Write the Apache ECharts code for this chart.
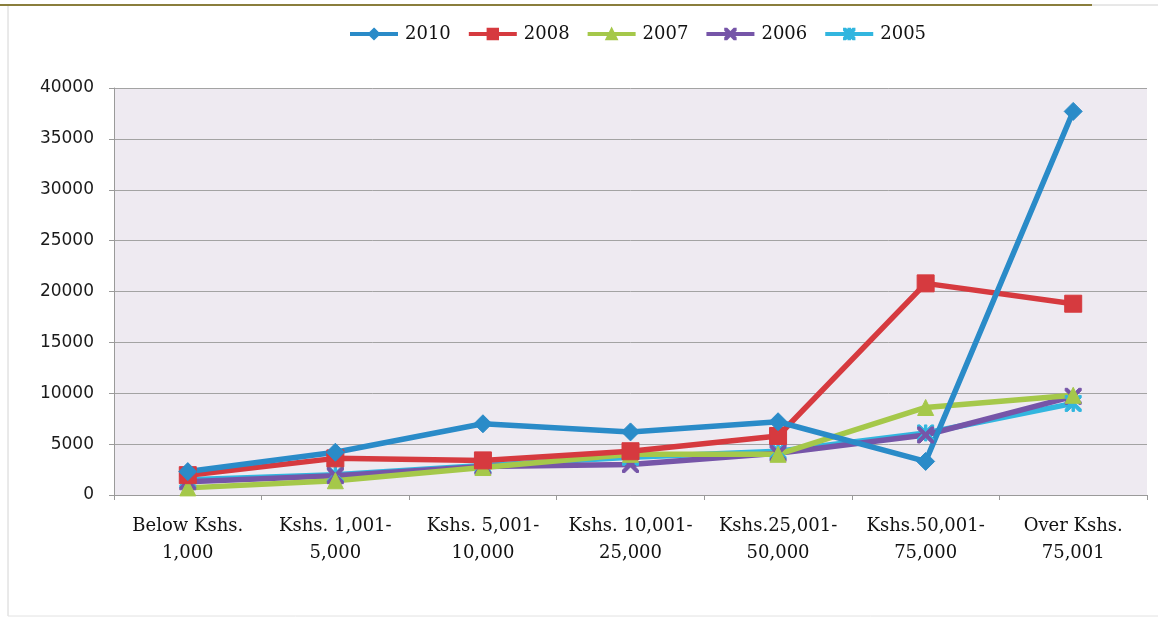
<!DOCTYPE html>
<html>
<head>
<meta charset="utf-8">
<script src="https://cdn.jsdelivr.net/npm/echarts@6/dist/echarts.min.js"></script>
<style>
  html, body { margin: 0; padding: 0; background: #ffffff; }
  #chart { width: 1158px; height: 620px; }
</style>
</head>
<body>
<div id="chart"></div>
<script>
// Income brackets along the category axis
const categories = [
  'Below Kshs.\n1,000',
  'Kshs. 1,001-\n5,000',
  'Kshs. 5,001-\n10,000',
  'Kshs. 10,001-\n25,000',
  'Kshs.25,001-\n50,000',
  'Kshs.50,001-\n75,000',
  'Over Kshs.\n75,001'
];

// Values per year
const values2010 = [2300, 4200, 7000, 6200, 7200, 3300, 37700];
const values2008 = [1950, 3600, 3400, 4300, 5800, 20800, 18800];
const values2007 = [700, 1400, 2700, 4000, 4000, 8600, 9800];
const values2006 = [1300, 1900, 2800, 3000, 4100, 5900, 9700];
const values2005 = [1500, 2000, 2900, 3700, 4300, 6100, 9000];

const yTicks = [0, 5000, 10000, 15000, 20000, 25000, 30000, 35000, 40000];

// Marker shapes for the X and asterisk series
const crossPath = 'path://M0,0 L3,0 L10,7 L17,0 L20,0 L20,3 L13,10 L20,17 L20,20 L17,20 L10,13 L3,20 L0,20 L0,17 L7,10 L0,3Z';
const starPath = 'path://M0,0 L3,0 L8.5,5.5 L8.5,0 L11.5,0 L11.5,5.5 L17,0 L20,0 L20,3 L13,10 L20,17 L20,20 L17,20 L11.5,14.5 L11.5,20 L8.5,20 L8.5,14.5 L3,20 L0,20 L0,17 L7,10 L0,3Z';

const serif = '"DejaVu Serif", "Liberation Serif", serif';
const sans = '"DejaVu Sans", "Noto Sans", sans-serif';

function lineSeries(name, data, color, symbol, size) {
  return {
    name: name,
    type: 'line',
    data: data,
    symbol: symbol,
    symbolSize: size,
    showAllSymbol: true,
    lineStyle: { width: 5.5, color: color },
    itemStyle: { color: color, borderColor: color, borderWidth: 1 },
    emphasis: { disabled: true }
  };
}

const chart = echarts.init(document.getElementById('chart'), null, { renderer: 'canvas' });

chart.setOption({
  animation: false,
  backgroundColor: '#ffffff',
  graphic: [
    { type: 'line', shape: { x1: 8, y1: 6, x2: 8, y2: 616 }, style: { stroke: '#d4d4d4', lineWidth: 1 } },
    { type: 'line', shape: { x1: 0, y1: 5, x2: 1092, y2: 5 }, style: { stroke: '#8a7e3c', lineWidth: 2 } },
    { type: 'line', shape: { x1: 1092, y1: 5, x2: 1158, y2: 5 }, style: { stroke: '#d0d0d0', lineWidth: 1 } },
    { type: 'line', shape: { x1: 8, y1: 616, x2: 1158, y2: 616 }, style: { stroke: '#e2e2e2', lineWidth: 1 } }
  ],
  legend: {
    top: 20,
    left: 343,
    itemWidth: 48,
    itemHeight: 13,
    itemGap: 16,
    lineStyle: { width: 4 },
    textStyle: { fontFamily: serif, fontSize: 18, color: '#111', padding: [0, 0, 0, 2] },
    data: ['2010', '2008', '2007', '2006', '2005']
  },
  grid: {
    left: 114,
    right: 11,
    top: 88,
    bottom: 125,
    show: true,
    backgroundColor: '#eeeaf1',
    borderWidth: 0
  },
  xAxis: {
    type: 'category',
    data: categories,
    boundaryGap: true,
    axisLine: { show: true, lineStyle: { color: '#9a9a9a', width: 1 } },
    axisTick: { show: true, length: 5, lineStyle: { color: '#9a9a9a' } },
    axisLabel: {
      interval: 0,
      margin: 18,
      fontFamily: serif,
      fontSize: 18,
      lineHeight: 27,
      color: '#111'
    },
    splitLine: { show: false }
  },
  yAxis: {
    type: 'value',
    min: yTicks[0],
    max: yTicks[yTicks.length - 1],
    interval: 5000,
    axisLine: { show: true, lineStyle: { color: '#9a9a9a', width: 1 } },
    axisTick: { show: true, length: 5, lineStyle: { color: '#9a9a9a' } },
    axisLabel: {
      margin: 20,
      fontFamily: sans,
      fontSize: 17,
      color: '#1a1a1a',
      formatter: function (v) { return String(v); }
    },
    splitLine: { show: true, lineStyle: { color: '#a3a3a3', width: 1 } }
  },
  series: [
    lineSeries('2005', values2005, '#32b6df', starPath, 16),
    lineSeries('2006', values2006, '#7655a8', crossPath, 16),
    lineSeries('2007', values2007, '#a5c84a', 'triangle', 16),
    lineSeries('2008', values2008, '#d63a3f', 'rect', 17),
    lineSeries('2010', values2010, '#2a8bc8', 'diamond', 18)
  ]
});
</script>
</body>
</html>
